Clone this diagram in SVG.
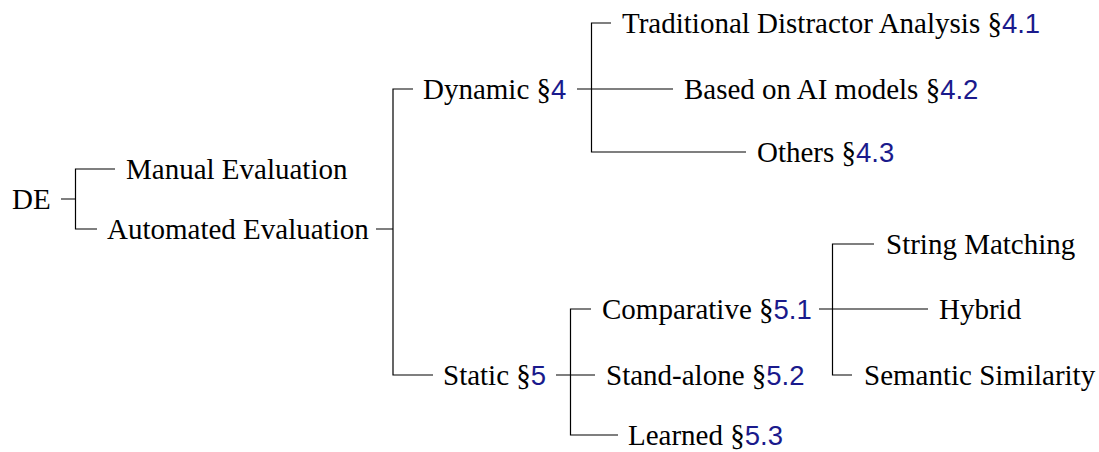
<svg xmlns="http://www.w3.org/2000/svg" width="1099" height="452" viewBox="0 0 1099 452">
<style>
.t{font-family:"Liberation Serif","Times New Roman",serif;font-size:29px;fill:#000}
.n{font-family:"Liberation Sans",Arial,sans-serif;font-size:27.5px;fill:#1a1a8c}
.e{fill:none;stroke:#000;stroke-width:1.2}
</style>
<rect width="1099" height="452" fill="#fff"/>
<g id="connectors">
<path class="e" d="M61,199 H75.5 V169 H115 M75.5,199 V229 H97"/>
<path class="e" d="M376,229 H393 V89 H413 M393,229 V375 H433"/>
<path class="e" d="M577,89 H591.5 V23 H611 M591.5,89 H673 M591.5,89 V152 H746"/>
<path class="e" d="M556,375 H570.5 V309 H591 M570.5,375 H595 M570.5,375 V435 H618"/>
<path class="e" d="M819,309 H832.5 V244 H874 M832.5,309 H928 M832.5,309 V375 H852"/>
</g>
<g id="DE"><text class="t" x="12" y="209">DE</text></g>
<g id="manual"><text class="t" x="126" y="179">Manual Evaluation</text></g>
<g id="automated"><text class="t" x="107" y="239">Automated Evaluation</text></g>
<g id="dynamic"><text class="t" x="423" y="99">Dynamic §<tspan class="n">4</tspan></text></g>
<g id="traditional"><text class="t" x="622" y="33">Traditional Distractor Analysis §<tspan class="n">4.1</tspan></text></g>
<g id="ai-models"><text class="t" x="684" y="99">Based on AI models §<tspan class="n">4.2</tspan></text></g>
<g id="others"><text class="t" x="757" y="162">Others §<tspan class="n">4.3</tspan></text></g>
<g id="static"><text class="t" x="443" y="385">Static §<tspan class="n">5</tspan></text></g>
<g id="comparative"><text class="t" x="602" y="319">Comparative §<tspan class="n">5.1</tspan></text></g>
<g id="standalone"><text class="t" x="606" y="385">Stand-alone §<tspan class="n">5.2</tspan></text></g>
<g id="learned"><text class="t" x="628" y="445">Learned §<tspan class="n">5.3</tspan></text></g>
<g id="string-matching"><text class="t" x="886" y="254">String Matching</text></g>
<g id="hybrid"><text class="t" x="939" y="319">Hybrid</text></g>
<g id="semantic"><text class="t" x="864" y="385">Semantic Similarity</text></g>
</svg>
